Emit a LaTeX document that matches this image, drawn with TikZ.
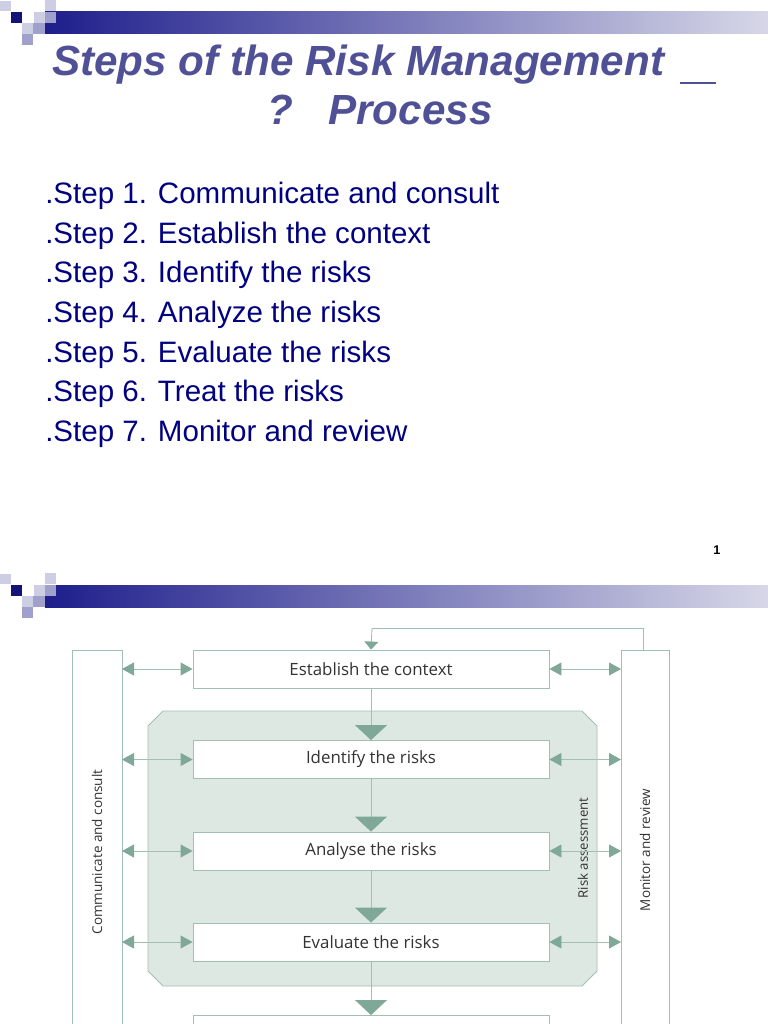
\documentclass[tikz,border=0pt]{standalone}
\usepackage{fontspec}
\setmainfont{Liberation Sans}
\newfontfamily\diagfont{Open Sans}
\usetikzlibrary{arrows.meta,shapes.misc}
\definecolor{navy}{RGB}{0,0,128}
\definecolor{slate}{RGB}{80,80,150}
\definecolor{barL}{RGB}{30,30,140}
\definecolor{barR}{RGB}{215,215,232}
\definecolor{sqA}{RGB}{20,20,120}
\definecolor{sqB}{RGB}{160,160,205}
\definecolor{sqC}{RGB}{205,205,228}
\definecolor{rline}{RGB}{160,192,178}
\definecolor{rarrow}{RGB}{128,168,152}
\definecolor{rfill}{RGB}{222,232,227}
\tikzset{
  stepline/.style={font=\fontsize{21}{24}\selectfont, text=navy, anchor=west, inner sep=0pt},
  procbox/.style={draw=rline, fill=white, line width=.6pt, minimum width=356*0.025cm,
    minimum height=38*0.025cm, font=\diagfont\fontsize{12}{14}\selectfont, text=black!80},
  sidebox/.style={draw=rline, line width=.6pt, fill=white},
  flow/.style={draw=rline, line width=.6pt, -{Triangle[width=32*0.025cm,length=15*0.025cm,fill=rarrow,color=rarrow]}},
  both/.style={draw=rline, line width=.6pt, {Triangle[width=13*0.025cm,length=12*0.025cm,fill=rarrow,color=rarrow]}-{Triangle[width=13*0.025cm,length=12*0.025cm,fill=rarrow,color=rarrow]}}
}
\newcommand{\slidehead}[1]{%
  \shade[left color=barL, right color=barR] (45,#1+12) rectangle (768,#1+34);
  \fill[sqC] (45,#1) rectangle (56,#1+11);
  \fill[sqA] (11,#1+12) rectangle (22,#1+23);
  \fill[sqC] (34,#1+12) rectangle (45,#1+23);
  \fill[sqB] (45,#1+12) rectangle (56,#1+23);
  \fill[sqC] (0,#1+1) rectangle (11,#1+11);
  \fill[sqC] (22,#1+23) rectangle (33,#1+34);
  \fill[sqB] (33,#1+23) rectangle (45,#1+34);
  \fill[sqB] (22,#1+34) rectangle (33,#1+45);
}
\begin{document}
\begin{tikzpicture}[x=0.025cm, y=-0.025cm]
\useasboundingbox (0,0) rectangle (768,1024);
% first slide
\slidehead{0}
\node[font=\fontsize{30}{33}\selectfont\bfseries\itshape, text=slate, anchor=west, inner sep=0pt] (title1) at (52,65) {Steps of the Risk Management};
\draw[slate, line width=1.4pt] (680,83) -- (716,83);
\node[font=\fontsize{30}{33}\selectfont\bfseries\itshape, text=slate, inner sep=0pt] (title2) at (380,110) {?\ \ \ Process};
\foreach \i/\txt in {1/Communicate and consult, 2/Establish the context, 3/Identify the risks,
  4/Analyze the risks, 5/Evaluate the risks, 6/Treat the risks, 7/Monitor and review}
  \node[stepline] (step\i) at (45,196+39.6*\i-39.6) {.Step \i. \txt};
\node[font=\small\bfseries, inner sep=0pt] (pagenum) at (717,550) {1};
% second slide
\slidehead{573}
\draw[rline, line width=.6pt, fill=rfill] (163,711) -- (582,711) -- (597,726) -- (597,971) -- (582,986)
  -- (163,986) -- (148,971) -- (148,726) -- cycle;
\draw[sidebox] (72,650) rectangle (122,1030);
\draw[sidebox] (621,650) rectangle (669,1030);
\node[rotate=90, font=\diagfont\fontsize{9.6}{11}\selectfont, text=black!80] (comm) at (97,852) {Communicate and consult};
\node[rotate=90, font=\diagfont\fontsize{9.6}{11}\selectfont, text=black!80] (mon) at (645,850) {Monitor and review};
\node[rotate=90, font=\diagfont\fontsize{9.4}{11}\selectfont, text=black!80] (assess) at (583,848) {Risk assessment};
\node[procbox] (ctx) at (371,669) {Establish the context};
\node[procbox] (ident) at (371,759.5) {Identify the risks};
\node[procbox] (anal) at (371,851) {Analyse the risks};
\node[procbox] (eval) at (371,942) {Evaluate the risks};
\node[procbox, anchor=north] (treat) at (371,1015) {};
\coordinate (fbR) at (643,628);
\coordinate (fbL) at (372,628);
\draw[rline, line width=.6pt] (643,650) -- (fbR) -- (fbL);
\draw[rline, line width=.6pt, -{Triangle[width=14*0.025cm,length=8*0.025cm,fill=rarrow,color=rarrow]}] (fbL) -- (ctx.north);
\draw[flow] (ctx) -- (ident);
\draw[flow] (ident) -- (anal);
\draw[flow] (anal) -- (eval);
\draw[flow] (eval) -- (treat);
\foreach \b in {ctx,ident,anal,eval}{
  \draw[both] (122,0 |- \b.west) -- (\b.west);
  \draw[both] (\b.east) -- (621,0 |- \b.east);
}
\end{tikzpicture}
\end{document}
